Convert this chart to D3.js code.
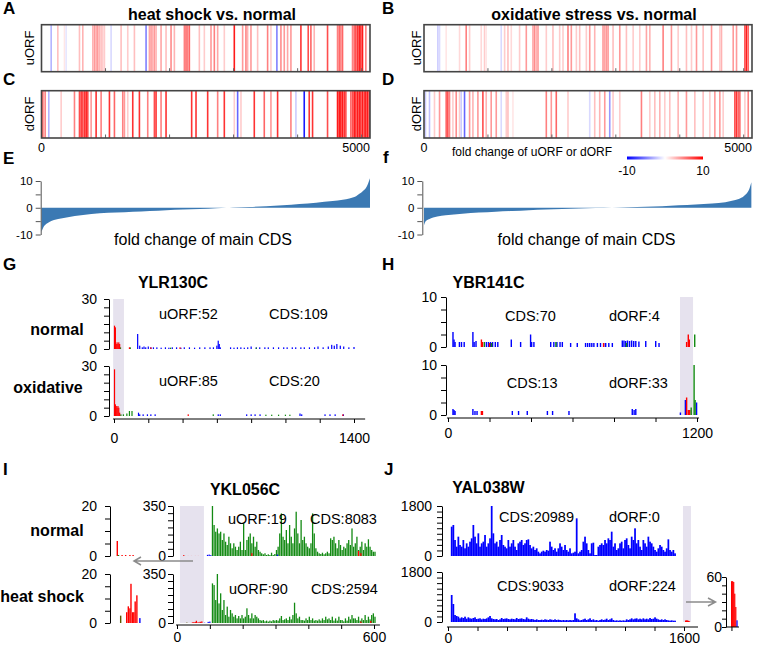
<!DOCTYPE html>
<html><head><meta charset="utf-8">
<script src="https://cdn.jsdelivr.net/npm/d3@7"></script>
<style>body{margin:0;background:#fff}svg{display:block}text{font-family:"Liberation Sans",Arial,sans-serif}</style>
</head><body><svg id="c" width="759" height="646"></svg>
<script>
// ---------- DATA ----------
// heat-map stripes: [gene rank, fold change]
const hsUorf = [[151,-3],[255,2.5],[359,1],[385,-1],[593,2.5],[645,3],[801,3],[827,4],[853,3.5],[879,4],[905,3],[931,2.5],[957,2],[983,2],[1087,-1.5],[1243,2.5],[1347,2],[1451,2.5],[1633,-5],[1685,3.5],[1711,4],[1737,3],[1763,4],[1789,3],[1867,3.5],[1945,2.5],[2023,4.5],[2075,3],[2231,5],[2257,6],[2283,5],[2309,6],[2465,2.5],[2543,2],[2647,4],[2699,5],[2751,3.5],[2855,2],[3011,9],[3141,4],[3193,5],[3219,3],[3271,4],[3375,2.5],[3531,5],[3583,2],[3676,-5],[3739,4.5],[3791,4],[3843,3.5],[3895,4],[4051,8],[4165,7],[4207,6],[4259,3],[4467,7],[4623,5],[4649,6],[4675,5],[4701,6],[4857,5],[4883,6],[4909,7],[4935,8],[4961,9],[4987,8],[5013,9],[5065,5]];
const hsDorf = [[21,6],[57,5],[114,-3],[307,2],[515,5],[593,7],[619,8],[645,7],[671,8],[697,9],[723,7],[775,4],[853,8],[931,5],[1061,8],[1139,6],[1269,5],[1295,4],[1347,2],[1425,8],[1529,8],[1659,5],[1763,7],[1789,8],[1867,5],[1945,8],[2345,8],[2413,8],[2595,8],[2751,5],[2855,8],[3011,2],[3063,-6],[3115,2],[3323,8],[3479,6],[3583,4],[3687,8],[3895,5],[3973,-2],[4103,-9],[4181,8],[4233,8],[4467,7],[4623,9],[4649,9],[4675,9],[4701,9],[4727,8],[4753,7],[4831,6],[4857,7],[4883,9],[4909,8],[4935,9],[4961,9],[4987,8],[5013,9],[5039,8],[5065,9],[5091,9],[5117,8]];
const oxUorf = [[217,-2],[243,-1.5],[347,1],[556,1.5],[660,5],[713,2],[895,1.5],[947,2],[973,1],[1208,-1.5],[1261,2],[1313,2.5],[1365,1.5],[1495,2],[1600,4],[1704,3.5],[1730,4.5],[1756,3],[1783,4],[1913,2],[2017,2.5],[2122,2],[2174,2],[2252,5],[2304,4],[2383,2],[2435,2.5],[2539,2],[2592,4],[2670,3],[2800,4],[2827,3.5],[2853,4],[2879,4],[2957,2.5],[3062,4],[3166,2.5],[3271,2],[3375,2],[3479,3.5],[3532,3],[3740,5],[3870,4],[3975,2],[4105,2.5],[4184,2],[4262,4],[4366,2.5],[4497,4],[4627,2],[4653,3],[4836,4],[4888,4],[5019,7],[5045,9],[5071,6]];
const oxDorf = [[23,-2],[86,-2.5],[164,2],[243,4],[347,6],[373,7],[399,5],[452,2],[504,4.5],[556,2],[582,-2],[634,-6],[713,4],[765,3],[843,4],[921,7],[973,3],[1051,4],[1130,4],[1208,-1.5],[1287,2],[1313,2.5],[1391,1],[1913,5],[1991,4],[2069,6],[2252,2],[2592,-1.5],[2670,2.5],[2748,3],[2827,4],[2905,-4],[2957,2],[3062,2],[3401,5],[3532,2],[3610,2.5],[3688,3],[3766,2],[3844,2.5],[3975,3],[4105,4],[4236,2.5],[4366,2.5],[4471,2],[4549,4],[4627,4],[4679,2],[4862,7],[4888,8],[4914,6],[4940,6],[5019,2],[5071,5]];
const heatTicks = [0,1000,2000,3000,4000,5000];
const colorbarTicks = [-10,10];

// sorted fold change of main CDS: [gene rank, fold change]
const eRank = [0,26,78,130,260,390,650,910,1170,1429,1689,1949,2209,2469,2729,2885,2989,3249,3509,3769,4028,4288,4548,4704,4808,4912,4964,5016,5068,5099,5130];
const eFold = [-9,-7.5,-6,-5.2,-4.2,-3.6,-2.7,-2.1,-1.8,-1.5,-1.2,-0.9,-0.7,-0.5,-0.2,0,0.1,0.3,0.6,0.9,1.4,1.9,2.5,3,3.5,4.3,5.2,6.2,7.5,9,11];
const fRank = [0,26,78,208,339,599,859,1120,1380,1641,1901,2161,2422,2682,2943,3203,3463,3724,3984,4245,4505,4713,4817,4922,5000,5052,5088,5120];
const fFold = [-6.5,-5,-4.3,-3.3,-2.8,-2.2,-1.8,-1.5,-1.2,-0.9,-0.7,-0.5,-0.3,-0.1,0,0.2,0.4,0.6,0.9,1.2,1.6,2.1,2.6,3.3,4.3,5.5,7,9.5];
const foldTicks = [-10,-5,0,5,10];

// G: YLR130C  [nt position, reads]
const gNormRed = [[3,14],[8,13],[13,3],[18,4],[23,3],[28,4],[33,3],[90,1],[215,1],[385,1]];
const gNormGreen = [[38,1],[95,1],[330,0.8],[830,0.8]];
const gNormBlue = [[138,9],[150,2],[165,1],[175,1.5],[185,1],[200,1.5],[215,1],[230,1],[250,1],[275,0.8],[300,1],[320,0.8],[340,1],[365,1],[390,0.8],[410,1],[440,1],[470,0.8],[500,1],[530,1],[560,1],[580,1],[600,2],[608,5],[614,3],[620,1],[680,1],[700,0.8],[720,1],[740,1],[760,0.8],[780,1],[800,1.5],[830,1],[850,1],[880,1],[900,1],[930,1],[960,1],[990,1],[1010,1],[1040,1],[1060,1],[1090,1],[1110,1],[1140,1],[1170,1],[1190,1.5],[1220,1],[1250,1.5],[1270,2.5],[1285,2],[1300,3],[1320,2],[1340,1.5],[1370,1],[1400,1.2]];
const gOxRed = [[3,28],[8,7],[13,6],[18,5],[23,6],[28,5],[33,2],[433,1],[1335,1]];
const gOxGreen = [[40,1],[55,1],[75,1.5],[90,3],[105,3],[579,1],[886,0.8],[920,0.8],[960,0.8],[1000,0.8],[1026,0.8]];
const gOxBlue = [[143,2],[150,1],[170,1],[195,1],[215,1],[240,1],[608,1],[620,1],[774,1],[800,1],[823,1],[852,1],[1085,1.5],[1095,1],[1231,1],[1260,1],[1290,1],[1338,1]];
const gShade = [-5,58];
const gTicks = [0,200,400,600,800,1000,1200,1400];

// H: YBR141C
const hNormBlue = [[24,3],[29,1.5],[34,1],[55,1],[65,1],[78,1],[120,3],[126,1],[135,1.2],[185,1],[195,1],[205,1],[215,1],[228,1],[240,1],[305,1.5],[350,1],[398,2.5],[403,1],[414,1],[495,1],[510,1],[525,1],[540,1],[551,1],[591,0.8],[623,0.8],[663,0.8],[673,0.8],[683,0.8],[693,0.8],[703,0.8],[720,0.8],[735,0.8],[750,0.8],[760,0.8],[775,0.8],[792,0.8],[840,1.3],[848,1.3],[856,1.2],[865,1.3],[875,1.2],[885,1.3],[895,1.2],[905,1.2],[920,1.1],[953,1.2],[1001,1.2],[1017,0.8]];
const hNormRed = [[161,1.5],[166,1],[200,0.8],[750,0.8],[1150,1],[1158,2.5],[1163,1.5]];
const hNormGreen = [[175,1],[210,0.8],[520,1],[860,0.8],[1189,2.5]];
const hOxBlue = [[24,1.2],[29,1],[34,0.8],[120,1.2],[130,0.8],[140,0.8],[310,0.8],[340,0.8],[382,0.8],[479,0.8],[504,0.8],[583,0.8],[888,1.2],[897,1],[905,1.2],[1120,0.5],[1144,3],[1198,2.5]];
const hOxRed = [[161,0.8],[166,0.8],[1150,3.5],[1158,1],[1165,1]];
const hOxGreen = [[1172,1.5],[1186,10],[1191,3]];
const hShade = [1118,1181];
const hTicks = [0,200,400,600,800,1000,1200];

// I: YKL056C  (main CDS reads from nt 108, every 5 nt)
const iStart = 108, iStep = 5;
const iNormGreen = [350,217,170,193,158,170,112,158,100,77,135,89,54,89,65,42,65,100,42,228,42,112,135,158,89,135,65,100,42,30,19,12,19,7,12,7,23,7,14,42,65,158,298,135,112,182,89,217,135,89,193,310,158,89,252,112,135,89,65,54,89,298,158,54,30,19,14,23,12,19,30,19,124,112,135,89,54,112,77,42,65,54,89,112,77,193,65,89,135,42,65,100,42,89,65,117,65,42,30,30];
const iHeatGreen = [283,271,164,350,140,212,93,164,57,117,45,93,69,45,57,33,50,33,57,33,45,105,57,33,69,33,57,45,33,21,17,21,12,17,10,17,12,21,17,21,17,33,50,21,26,33,21,45,26,57,145,69,33,45,21,21,17,33,21,45,21,33,17,21,17,26,17,33,21,45,26,33,21,45,17,33,17,45,21,21,12,33,17,45,26,57,33,33,21,45,17,33,21,57,21,45,26,57,69,45];
const iNormOther = [[228,20,"red"],[553,35,"red"],[560,20,"red"],[93,8,"blue"],[98,10,"blue"],[103,6,"blue"],[306,10,"blue"]];
const iHeatOther = [[560,10,"red"],[590,15,"red"],[95,8,"blue"],[100,10,"blue"]];
// uORF zoom (inset)
const iInsetNorm = [[20.5,6,"red"],[24,0.4,"green"],[34,0.4,"red"],[44,0.4,"red"],[56,0.4,"red"],[65,0.4,"red"]];
const iInsetHeat = [[30,3,"olive"],[47,4.4,"red"],[51.5,6.8,"red"],[56,6,"red"],[59,16,"red"],[63.6,4.4,"red"],[67,4.4,"red"],[70.8,8.8,"red"],[75.6,11.3,"red"],[84,2,"blue"]];
const iShade = [9,82];
const iTicks = [0,100,200,300,400,500,600];

// J: YAL038W  (main CDS reads from nt 25, every 11.3 nt)
const jStart = 25, jStep = 11.3;
const jNormBlue = [1056,1116,576,336,696,396,336,576,276,456,336,516,636,1116,696,456,816,336,456,516,756,336,456,636,1800,816,456,516,336,576,756,396,336,276,576,336,456,576,336,216,456,516,576,396,456,576,600,396,276,336,216,276,156,96,156,192,156,216,192,516,336,216,276,156,276,456,336,216,396,216,156,276,96,120,156,1356,96,156,216,516,696,456,216,96,456,480,36,36,336,396,456,396,576,456,636,576,876,336,456,216,276,456,516,276,576,636,396,276,696,576,996,456,576,336,216,576,456,336,696,516,456,336,216,156,276,396,336,216,156,276,600,216,156,216,96];
const jOxBlue = [972,648,252,216,192,132,168,144,192,120,168,132,120,144,168,108,120,132,96,120,108,132,168,216,132,108,96,108,72,96,144,108,120,132,108,96,120,108,96,144,108,120,132,108,96,168,120,96,108,96,72,96,72,72,84,72,96,84,72,96,84,72,96,72,84,72,60,72,60,72,60,72,60,72,312,132,96,60,72,96,120,72,96,132,72,96,60,72,48,72,96,72,84,120,72,96,132,72,48,60,48,60,48,60,48,96,72,96,132,96,120,132,96,120,96,132,96,120,96,144,108,120,168,120,96,72,96,72,96,72,60,48,60,48,48];
// dORF zoom (inset)
const jInsetOx = [[1612,55,"red"],[1618,55,"red"],[1624,54,"red"],[1630,40,"red"],[1636,24,"red"],[1643,8,"blue"]];
const jShade = [1593,1647];
const jTicks = [0,200,400,600,800,1000,1200,1400,1600];

// ---------- DRAWING ----------
const svg = d3.select("#c");
const FONT = '"Liberation Sans", Arial, sans-serif';
const COL = {red:"#ff0000", blue:"#0000ff", green:"#138a13", olive:"#5a5a00"};

function txt(x, y, s, o = {}) {
  const t = svg.append("text").attr("x", x).attr("y", y).text(s)
    .attr("font-size", o.size || 14).attr("font-weight", o.bold ? "bold" : "normal")
    .attr("text-anchor", o.anchor || "start").attr("fill", "#000");
  if (o.rot) t.attr("transform", `rotate(-90 ${x} ${y})`);
  return t;
}

const heatColor = d3.scaleLinear().domain([-10, 0, 10]).range(["#0000ff", "#ffffff", "#ff0000"]).clamp(true);
const hxL = d3.scaleLinear().domain([0, 5130]).range([41.5, 370]);
const hxR = d3.scaleLinear().domain([0, 5130]).range([424, 752]);

function heat(x, top, bot, data) {
  const g = svg.append("g");
  const [a, b] = x.range();
  g.append("rect").attr("x", a).attr("y", top).attr("width", b - a).attr("height", bot - top).attr("fill", "#fff");
  g.selectAll(null).data(data).enter().append("rect")
    .attr("x", d => x(d[0]) - 0.8).attr("y", top).attr("width", 1.6).attr("height", bot - top)
    .attr("fill", d => heatColor(d[1]));
  g.selectAll(null).data(heatTicks.slice(1)).enter().append("line")
    .attr("x1", d => x(d)).attr("x2", d => x(d)).attr("y1", bot - 3.5).attr("y2", bot)
    .attr("stroke", "#666").attr("stroke-width", 1);
  g.append("rect").attr("x", a).attr("y", top).attr("width", b - a).attr("height", bot - top)
    .attr("fill", "none").attr("stroke", "#444").attr("stroke-width", 1.6);
}
heat(hxL, 24.7, 71.7, hsUorf);
heat(hxL, 90.7, 138, hsDorf);
heat(hxR, 24.7, 71.7, oxUorf);
heat(hxR, 90.7, 138, oxDorf);

txt(3, 14, "A", {bold: 1, size: 17});
txt(382, 14, "B", {bold: 1, size: 17});
txt(3, 85, "C", {bold: 1, size: 17});
txt(382, 85, "D", {bold: 1, size: 17});
txt(212, 20, "heat shock vs. normal", {bold: 1, size: 16, anchor: "middle"});
txt(594, 20, "oxidative stress vs. normal", {bold: 1, size: 16, anchor: "middle"});
txt(33.5, 48, "uORF", {size: 13, anchor: "middle", rot: 1});
txt(33.5, 114, "dORF", {size: 13, anchor: "middle", rot: 1});
txt(421, 48, "uORF", {size: 13, anchor: "middle", rot: 1});
txt(421, 114, "dORF", {size: 13, anchor: "middle", rot: 1});
txt(hxL(heatTicks[0]), 151.5, heatTicks[0], {size: 12.5, anchor: "middle"});
txt(hxL.range()[1], 151.5, heatTicks[5], {size: 12.5, anchor: "end"});
txt(hxR(heatTicks[0]), 151.5, heatTicks[0], {size: 12.5, anchor: "middle"});
txt(hxR.range()[1], 151.5, heatTicks[5], {size: 12.5, anchor: "end"});

// colour bar
const defs = svg.append("defs");
const lg = defs.append("linearGradient").attr("id", "cb");
[[0, -10], [50, 0], [100, 10]].forEach(s => lg.append("stop").attr("offset", s[0] + "%").attr("stop-color", heatColor(s[1])));
const cbx = d3.scaleLinear().domain(colorbarTicks).range([627, 703]);
svg.append("rect").attr("x", cbx(-10)).attr("y", 156.5).attr("width", cbx(10) - cbx(-10)).attr("height", 3).attr("fill", "url(#cb)");
txt(452, 155.5, "fold change of uORF or dORF", {size: 12});
colorbarTicks.forEach(v => txt(cbx(v), 175, v, {size: 12, anchor: "middle"}));

// E / f sorted fold change
function sorted(x, axX, rank, fold, labelX) {
  const y = d3.scaleLinear().domain([-10, 10]).range([234.5, 181]);
  const pts = rank.map((r, i) => [r, fold[i]]);
  svg.append("path").datum(pts)
    .attr("d", d3.area().x(d => x(d[0])).y0(y(0)).y1(d => y(d[1])).curve(d3.curveMonotoneX))
    .attr("fill", "#3b79b3");
  const ax = d3.axisLeft(y).tickValues(foldTicks).tickSize(5).tickSizeOuter(0).tickPadding(3)
    .tickFormat(d => d % 10 === 0 ? d : "");
  const g = svg.append("g").attr("transform", `translate(${axX},0)`).call(ax);
  g.selectAll("text").attr("font-size", 11.5).attr("font-family", FONT);
  g.selectAll("line,path").attr("stroke", "#555");
  txt(labelX, 245, "fold change of main CDS", {size: 16, anchor: "middle"});
}
sorted(hxL, 40.7, eRank, eFold, 203);
sorted(hxR, 422.3, fRank, fFold, 586.5);
txt(3, 164, "E", {bold: 1, size: 17});
txt(383, 163, "f", {bold: 1, size: 17});

// generic helpers for read-count panels
function bars(x, y, data, color, w) {
  svg.append("g").selectAll(null).data(data).enter().append("rect")
    .attr("x", d => x(d[0]) - w / 2).attr("y", d => y(d[1])).attr("width", w)
    .attr("height", d => Math.max(0, y(0) - y(d[1])))
    .attr("fill", d => COL[d[2] || color]);
}
function seq(start, step, vals) { return vals.map((v, i) => [start + i * step, v]); }
function yAx(xp, y, step, max, tick, pad) {
  const ax = d3.axisLeft(y).tickValues(d3.range(0, max + step / 2, step)).tickSize(tick).tickSizeOuter(0)
    .tickPadding(pad).tickFormat(d => (d === 0 || d === max) ? d : "");
  const g = svg.append("g").attr("transform", `translate(${xp},0)`).call(ax);
  g.selectAll("text").attr("font-size", 14).attr("font-family", FONT).attr("fill", "#000");
  g.selectAll("line,path").attr("stroke", "#000");
}
function xAx(yp, x, ticks, lo, hi, pad) {
  const last = ticks[ticks.length - 1];
  const ax = d3.axisBottom(x).tickValues(ticks).tickSize(4).tickSizeOuter(0).tickPadding(pad)
    .tickFormat(d => (d === 0 || d === last) ? d : "");
  const g = svg.append("g").attr("transform", `translate(0,${yp})`).call(ax);
  g.select(".domain").remove();
  g.append("line").attr("x1", x(lo)).attr("x2", x(hi)).attr("stroke", "#000");
  g.selectAll("text").attr("font-size", 14).attr("font-family", FONT).attr("fill", "#000");
  g.selectAll("line").attr("stroke", "#000");
}
function shade(x, yTop, yBot, s) {
  svg.append("rect").attr("x", x(s[0])).attr("y", yTop).attr("width", x(s[1]) - x(s[0]))
    .attr("height", yBot - yTop).attr("fill", "#e6e2ee");
}

// ---- G ----
const gx = d3.scaleLinear().domain([0, 1400]).range([114, 354]);
const gyN = d3.scaleLinear().domain([0, 30]).range([349, 299]);
const gyO = d3.scaleLinear().domain([0, 30]).range([416, 366]);
shade(gx, gyN(30), gyO(0), gShade);
bars(gx, gyN, gNormBlue, "blue", 1.2); bars(gx, gyN, gNormGreen, "green", 1.2); bars(gx, gyN, gNormRed, "red", 1.2);
bars(gx, gyO, gOxBlue, "blue", 1.2); bars(gx, gyO, gOxGreen, "green", 1.2); bars(gx, gyO, gOxRed, "red", 1.2);
yAx(109, gyN, 5, 30, 5, 7); yAx(109, gyO, 5, 30, 5, 7);
xAx(419, gx, gTicks, -6, 1465, 10);
txt(3, 270, "G", {bold: 1, size: 17});
txt(173, 288, "YLR130C", {bold: 1, size: 16, anchor: "middle"});
txt(57, 335, "normal", {bold: 1, size: 16, anchor: "middle"});
txt(48, 393, "oxidative", {bold: 1, size: 16, anchor: "middle"});
txt(159, 319, "uORF:52", {size: 14.5}); txt(269, 319, "CDS:109", {size: 14.5});
txt(159, 386, "uORF:85", {size: 14.5}); txt(269, 386, "CDS:20", {size: 14.5});

// ---- H ----
const hx = d3.scaleLinear().domain([0, 1200]).range([448, 697]);
const hyN = d3.scaleLinear().domain([0, 10]).range([347, 297]);
const hyO = d3.scaleLinear().domain([0, 10]).range([415, 365]);
shade(hx, hyN(10), hyO(0), hShade);
bars(hx, hyN, hNormBlue, "blue", 1.4); bars(hx, hyN, hNormGreen, "green", 1.4); bars(hx, hyN, hNormRed, "red", 1.4);
bars(hx, hyO, hOxBlue, "blue", 1.4); bars(hx, hyO, hOxRed, "red", 1.4); bars(hx, hyO, hOxGreen, "green", 1.4);
yAx(446, hyN, 2.5, 10, 5, 4); yAx(446, hyO, 2.5, 10, 5, 4);
xAx(418, hx, hTicks, -5, 1210, 6);
txt(382, 270, "H", {bold: 1, size: 17});
txt(488.5, 288, "YBR141C", {bold: 1, size: 16, anchor: "middle"});
txt(505, 320.5, "CDS:70", {size: 14.5}); txt(609, 320.5, "dORF:4", {size: 14.5});
txt(506.7, 388, "CDS:13", {size: 14.5}); txt(609, 388, "dORF:33", {size: 14.5});

// ---- I ----
const ix = d3.scaleLinear().domain([0, 600]).range([177, 374]);
const iyN = d3.scaleLinear().domain([0, 350]).range([556, 506]);
const iyH = d3.scaleLinear().domain([0, 350]).range([623, 574]);
shade(ix, iyN(350), iyH(0), iShade);
bars(ix, iyN, seq(iStart, iStep, iNormGreen), "green", 1.3);
bars(ix, iyN, iNormOther, "red", 1.3);
bars(ix, iyN, iInsetNorm, "red", 1.3);
bars(ix, iyH, seq(iStart, iStep, iHeatGreen), "green", 1.3);
bars(ix, iyH, iHeatOther, "red", 1.3);
bars(ix, iyH, iInsetHeat, "red", 1.3);
yAx(173, iyN, 50, 350, 5, 2); yAx(173, iyH, 50, 350, 5, 2);
xAx(625, ix, iTicks, -3, 618, 3);
const iix = d3.scaleLinear().domain([0, 90]).range([110, 142]);
const iiyN = d3.scaleLinear().domain([0, 20]).range([556, 506]);
const iiyH = d3.scaleLinear().domain([0, 20]).range([623, 574]);
bars(iix, iiyN, iInsetNorm, "red", 1.4);
bars(iix, iiyH, iInsetHeat, "red", 1.4);
yAx(110, iiyN, 5, 20, 5, 8); yAx(110, iiyH, 5, 20, 5, 8);
svg.append("path").attr("d", "M193,561H134M141,557L134,561L141,565").attr("fill", "none").attr("stroke", "#8c8c8c").attr("stroke-width", 1.5);
txt(3, 475, "I", {bold: 1, size: 17});
txt(245, 495, "YKL056C", {bold: 1, size: 16, anchor: "middle"});
txt(57, 536, "normal", {bold: 1, size: 16, anchor: "middle"});
txt(42, 602, "heat shock", {bold: 1, size: 16, anchor: "middle"});
txt(228, 524, "uORF:19", {size: 14.5}); txt(310, 524, "CDS:8083", {size: 14.5});
txt(229, 594, "uORF:90", {size: 14.5}); txt(311, 594, "CDS:2594", {size: 14.5});

// ---- J ----
const jx = d3.scaleLinear().domain([0, 1600]).range([448, 684]);
const jyN = d3.scaleLinear().domain([0, 1800]).range([556, 506]);
const jyO = d3.scaleLinear().domain([0, 1800]).range([622, 572]);
shade(jx, jyN(1800), jyO(0), jShade);
bars(jx, jyN, seq(jStart, jStep, jNormBlue), "blue", 1.75);
bars(jx, jyO, seq(jStart, jStep, jOxBlue), "blue", 1.75);
bars(jx, jyO, jInsetOx.filter(d => d[2] === "red"), "red", 1.5);
yAx(442, jyN, 200, 1800, 5, 5); yAx(442, jyO, 200, 1800, 5, 5);
xAx(627, jx, jTicks, -7, 1695, 2);
const jix = d3.scaleLinear().domain([1580, 1660]).range([726, 740]);
const jiy = d3.scaleLinear().domain([0, 60]).range([627, 577]);
bars(jix, jiy, jInsetOx, "red", 1.2);
yAx(726, jiy, 10, 60, 4, 0);
svg.append("line").attr("x1", 726).attr("x2", 739).attr("y1", 627).attr("y2", 627).attr("stroke", "#000");
svg.append("line").attr("x1", jix(1614)).attr("x2", jix(1614)).attr("y1", 627).attr("y2", 631).attr("stroke", "#000");
svg.append("path").attr("d", "M686,602H715.5M708,598L715.5,602L708,606").attr("fill", "none").attr("stroke", "#8c8c8c").attr("stroke-width", 1.5);
txt(384, 475, "J", {bold: 1, size: 17});
txt(488.5, 493, "YAL038W", {bold: 1, size: 16, anchor: "middle"});
txt(499, 521.5, "CDS:20989", {size: 14.5}); txt(609, 521.5, "dORF:0", {size: 14.5});
txt(497, 591, "CDS:9033", {size: 14.5}); txt(609, 591, "dORF:224", {size: 14.5});
</script></body></html>
